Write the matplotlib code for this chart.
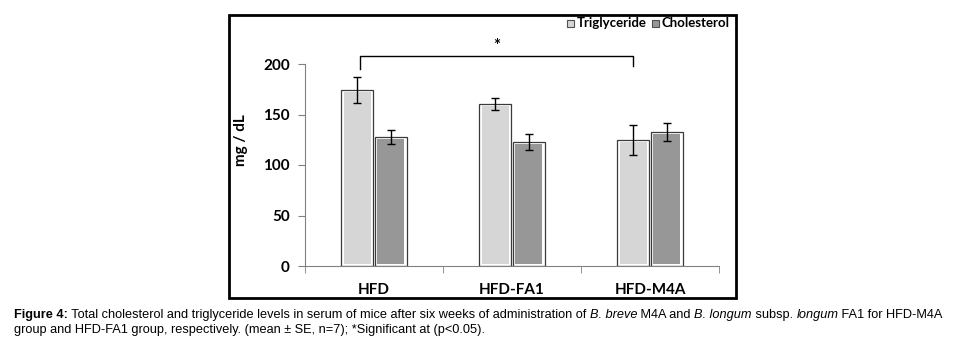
import numpy as np
import matplotlib.pyplot as plt
from matplotlib.patches import Rectangle

groups = ['HFD', 'HFD-FA1', 'HFD-M4A']
trig = [174, 160, 125]
trig_se = [13, 6, 15]
chol = [128, 123, 133]
chol_se = [7, 8, 9]
series_names = ['Triglyceride', 'Cholesterol']
colors = ['#d6d6d6', '#979797']
yticks = [0, 50, 100, 150, 200]

W, H = 958, 341
fig = plt.figure(figsize=(W / 100, H / 100), dpi=100)

# outer frame of the chart
fig.patches.append(Rectangle((229 / W, 1 - 298 / H), 507 / W, 283 / H,
                             transform=fig.transFigure, fill=False,
                             edgecolor='black', linewidth=2, zorder=10))

ax = fig.add_axes([305 / W, 1 - 266 / H, 414 / W, 252.5 / H])
ax.set_xlim(-0.5, 2.5)
ax.set_ylim(0, 250)

x = np.arange(len(groups))
bw = 0.23
off = 0.122
insx = 0.016
insy = 2.0

for vals, errs, c, d in [(trig, trig_se, colors[0], -off), (chol, chol_se, colors[1], off)]:
    ax.bar(x + d, vals, bw, color='white', edgecolor='#3a3a3a', linewidth=0.9, zorder=2)
    ax.bar(x + d, np.array(vals) - 2 * insy, bw - 2 * insx, bottom=insy,
           color=c, linewidth=0, zorder=3)
    ax.errorbar(x + d, vals, yerr=errs, fmt='none', ecolor='black',
                elinewidth=1, capsize=3, capthick=1, zorder=4)

# significance bracket
xl, xr = 0 - off + 0.02, 2 - off
ax.plot([xl, xl, xr, xr], [195, 208, 208, 198], color='black', lw=1,
        clip_on=False, zorder=5)
ax.text((xl + xr) / 2, 218, '*', ha='center', va='center', fontsize=12,
        fontfamily='Lato', fontweight='bold')

for s in ['top', 'right']:
    ax.spines[s].set_visible(False)
ax.spines['left'].set_bounds(0, 200)
ax.spines['left'].set_color('#808080')
ax.spines['bottom'].set_color('#808080')

ax.set_yticks(yticks)
ax.set_yticklabels([str(v) for v in yticks], fontfamily='Lato',
                   fontweight='bold', fontsize=11)
ax.tick_params(axis='y', length=5, color='#808080', pad=6)
ax.set_xticks(x)
ax.set_xticklabels(groups, fontfamily='Lato', fontweight='bold', fontsize=11)
ax.set_xticks([-0.5, 0.5, 1.5, 2.5], minor=True)
ax.tick_params(axis='x', which='major', length=0, pad=12)
ax.tick_params(axis='x', which='minor', length=5, color='#808080')
ax.set_ylabel('mg / dL', fontfamily='Lato', fontweight='bold', fontsize=11,
              labelpad=11)

fig.canvas.draw()
renderer = fig.canvas.get_renderer()

# legend
lx = 567
for name, c in zip(series_names, colors):
    fig.patches.append(Rectangle((lx / W, 1 - 26.5 / H), 7 / W, 7 / H,
                                 transform=fig.transFigure, facecolor=c,
                                 edgecolor='#505050', linewidth=0.8))
    t = fig.text((lx + 10) / W, 1 - 23 / H, name, fontfamily='Lato',
                 fontweight='bold', fontsize=9.5, va='center', ha='left')
    lx = lx + 10 + t.get_window_extent(renderer).width + 5

# caption with mixed styles
cap_font = 'Liberation Sans'

line1 = [('Figure 4:', 'bold', 'normal'),
         (' Total cholesterol and triglyceride levels in serum of mice after six weeks of administration of ', 'normal', 'normal'),
         ('B. breve', 'normal', 'italic'),
         (' M4A and ', 'normal', 'normal'),
         ('B. longum', 'normal', 'italic'),
         (' subsp. ', 'normal', 'normal'),
         ('longum', 'normal', 'italic'),
         (' FA1 for HFD-M4A', 'normal', 'normal')]
line2 = [('group and HFD-FA1 group, respectively. (mean \u00b1 SE, n=7); *Significant at (p<0.05).', 'normal', 'normal')]


def runs(line, y, fs, draw=True):
    cx = 14
    made = []
    for txt, wt, st in line:
        t = fig.text(cx / W, y, txt, fontfamily=cap_font, fontsize=fs,
                     fontweight=wt, fontstyle=st, va='baseline', ha='left')
        made.append(t)
        cx += t.get_window_extent(renderer).width
    if not draw:
        for t in made:
            t.remove()
    return cx


# pick the largest size that keeps line 1 inside the picture
best = 9.0
for fs in np.arange(9.0, 9.4, 0.02):
    if runs(line1, 0.5, fs, draw=False) <= 953:
        best = fs

runs(line1, 1 - 318 / H, best)
runs(line2, 1 - 333 / H, best)

fig.savefig('out.png', dpi=100)
